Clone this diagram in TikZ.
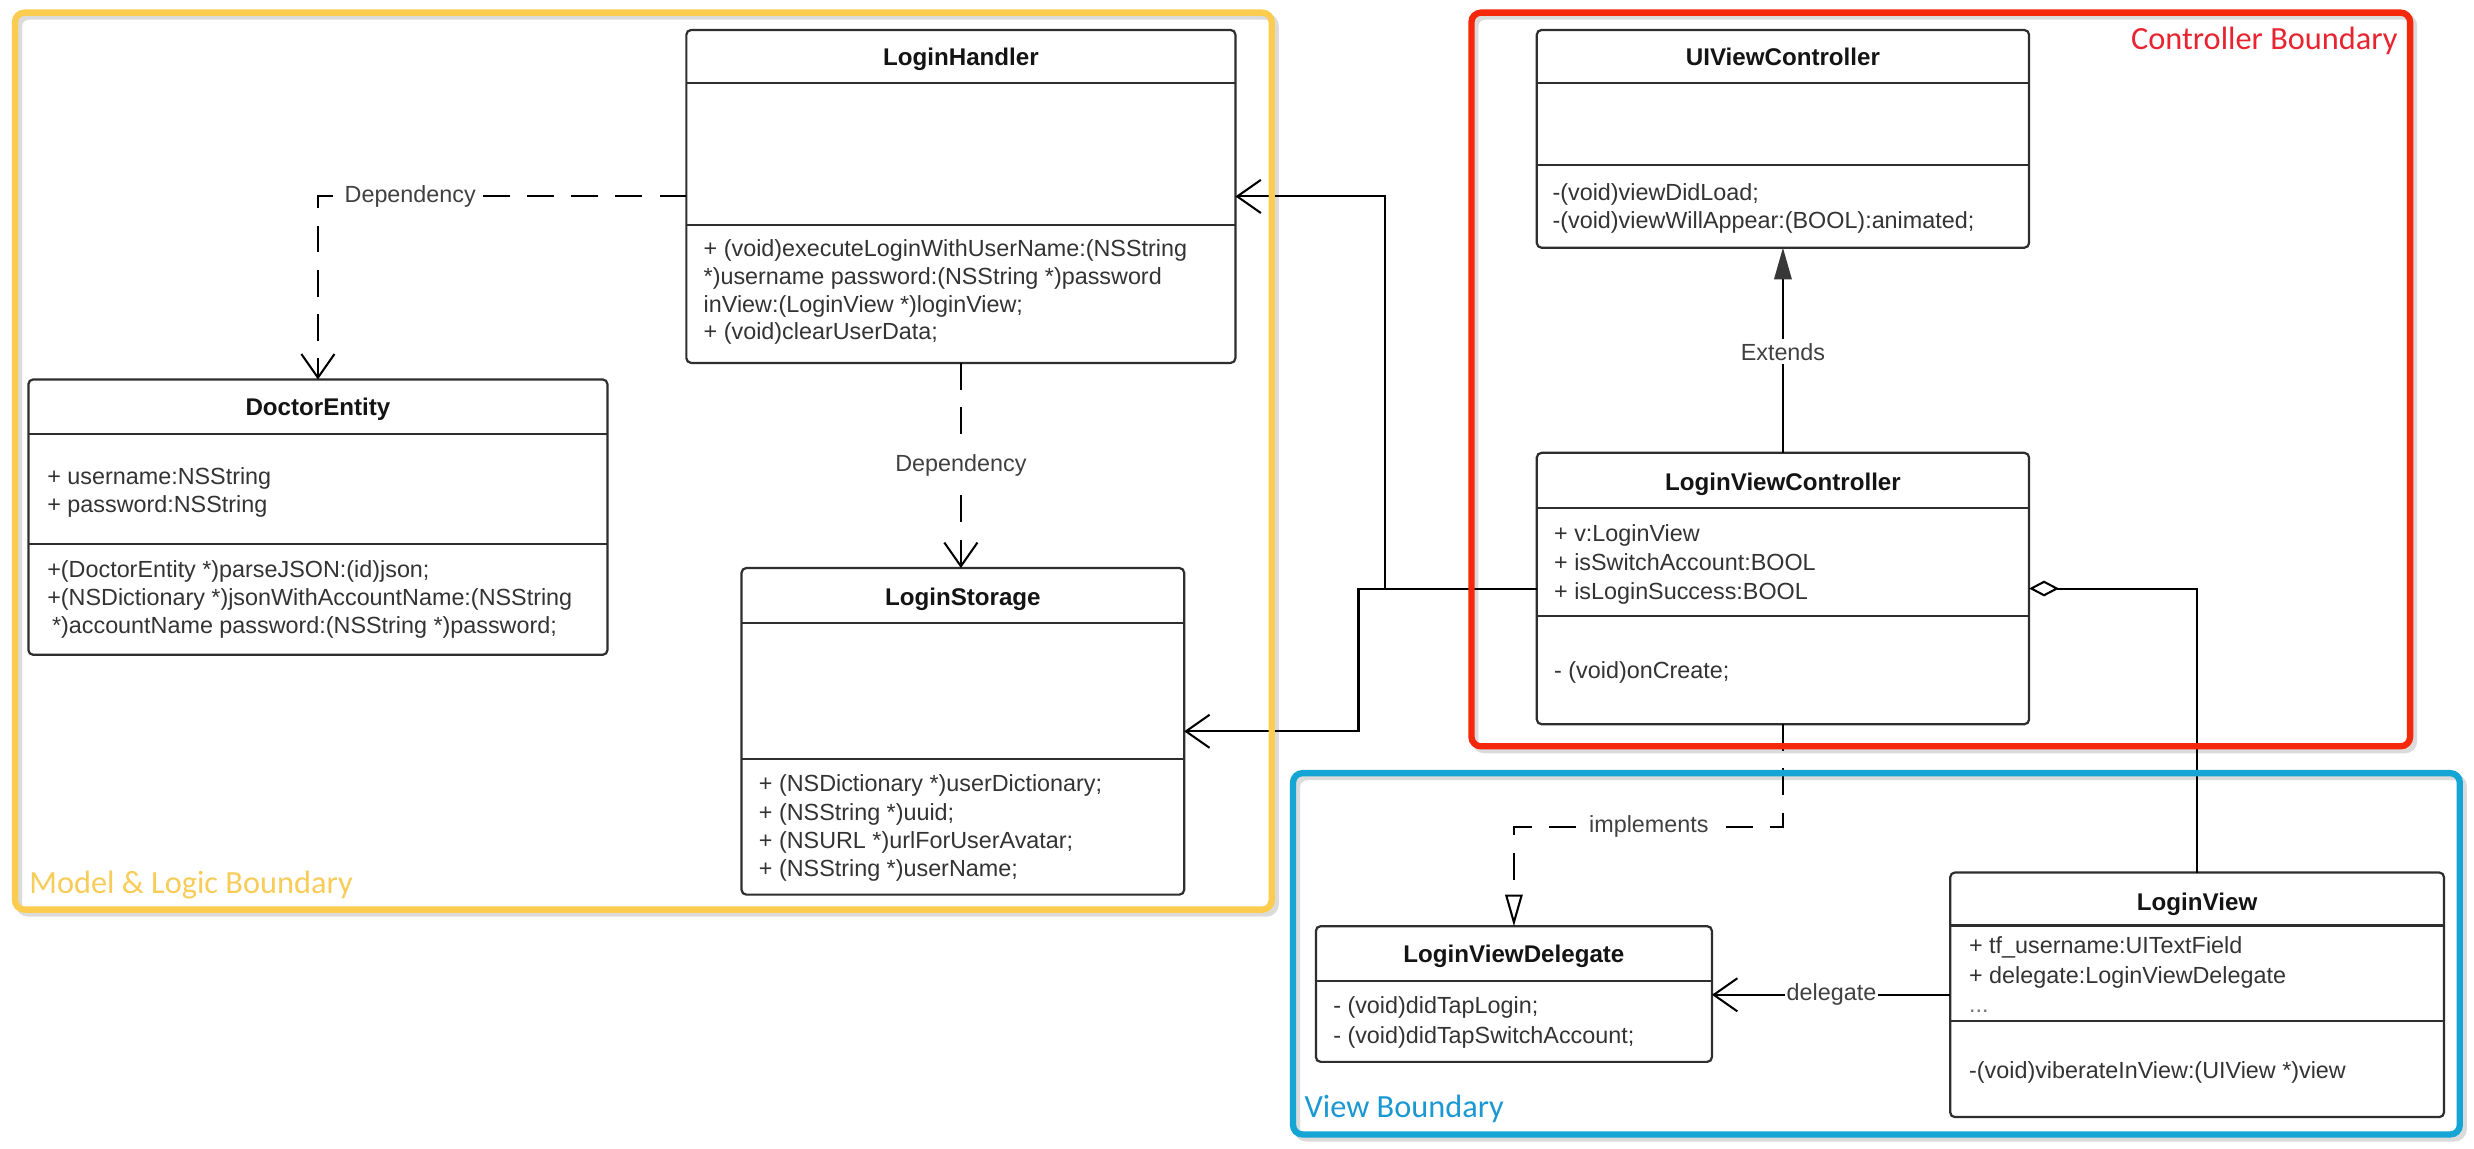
\documentclass[tikz,border=0pt]{standalone}
\usepackage{fontspec}
\setmainfont{Liberation Sans}
\newfontfamily\boundaryfont{Carlito}
\usetikzlibrary{arrows.meta}
\definecolor{modelyellow}{RGB}{252,204,78}
\definecolor{modeltext}{RGB}{248,204,88}
\definecolor{ctrlred}{RGB}{245,40,12}
\definecolor{ctrltext}{RGB}{232,36,48}
\definecolor{viewblue}{RGB}{20,165,212}
\definecolor{viewtext}{RGB}{26,152,210}

\begin{document}
\begin{tikzpicture}[x=1pt,y=-1pt,
  every node/.style={inner sep=0pt,outer sep=0pt},
  classbox/.style={draw=black!82,line width=1.4pt,rounded corners=3pt,fill=white},
  divider/.style={draw=black!82,line width=1.4pt},
  cname/.style={anchor=base,text=black!92,font=\fontsize{15.3}{18}\selectfont\bfseries},
  member/.style={anchor=base west,text=black!80,font=\fontsize{14.8}{18}\selectfont},
  conn/.style={draw=black,line width=1.3pt},
  dep/.style={conn,dash pattern=on 17pt off 11pt},
  openhead/.style={-{Straight Barb[length=15pt,width=21pt]}},
  lbl/.style={fill=white,inner sep=2.5pt,text=black!75,font=\fontsize{14.8}{18}\selectfont},
  boundary/.style={line width=4pt,rounded corners=6pt},
  bshadow/.style={line width=4pt,rounded corners=6pt,draw=black!14},
  blabel/.style={anchor=base west,font=\boundaryfont\fontsize{20.5}{24}\selectfont},
]
\useasboundingbox (0,0) rectangle (1568,728);
\fill[white] (0,0) rectangle (1568,728);

% soft shadows of the three boundaries
\draw[bshadow] (12,10.5) rectangle (808.5,579);
\draw[bshadow] (935,10.5) rectangle (1530,475.5);
\draw[bshadow] (822,492.5) rectangle (1561.5,721.5);

% ---------- classes ----------
% LoginHandler
\node[classbox,minimum width=348pt,minimum height=211pt] (LH) at (609,124.5) {};
\draw[divider] (LH.west |- 0,52.5) -- (LH.east |- 0,52.5);
\draw[divider] (LH.west |- 0,142.5) -- (LH.east |- 0,142.5);
\node[cname] (LH-name) at (609,41.5) {LoginHandler};
\node[member] (LH-m1) at (446,162.8) {+ (void)executeLoginWithUserName:(NSString};
\node[member] (LH-m2) at (446,180.3) {*)username password:(NSString *)password};
\node[member] (LH-m3) at (446,197.8) {inView:(LoginView *)loginView;};
\node[member] (LH-m4) at (446,215.3) {+ (void)clearUserData;};

% DoctorEntity
\node[classbox,minimum width=367pt,minimum height=174.5pt] (DE) at (201.5,327.75) {};
\draw[divider] (DE.west |- 0,275) -- (DE.east |- 0,275);
\draw[divider] (DE.west |- 0,345) -- (DE.east |- 0,345);
\node[cname] (DE-name) at (201.5,263.5) {DoctorEntity};
\node[member] (DE-a1) at (30,306.8) {+ username:NSString};
\node[member] (DE-a2) at (30,324.8) {+ password:NSString};
\node[member] (DE-m1) at (30,365.8) {+(DoctorEntity *)parseJSON:(id)json;};
\node[member] (DE-m2) at (30,383.8) {+(NSDictionary *)jsonWithAccountName:(NSString};
\node[member] (DE-m3) at (33,401.8) {*)accountName password:(NSString *)password;};

% LoginStorage
\node[classbox,minimum width=280.5pt,minimum height=207pt] (LS) at (610.25,463.5) {};
\draw[divider] (LS.west |- 0,395) -- (LS.east |- 0,395);
\draw[divider] (LS.west |- 0,481) -- (LS.east |- 0,481);
\node[cname] (LS-name) at (610.25,383.5) {LoginStorage};
\node[member] (LS-m1) at (481,501.8) {+ (NSDictionary *)userDictionary;};
\node[member] (LS-m2) at (481,519.8) {+ (NSString *)uuid;};
\node[member] (LS-m3) at (481,537.8) {+ (NSURL *)urlForUserAvatar;};
\node[member] (LS-m4) at (481,555.8) {+ (NSString *)userName;};

% UIViewController
\node[classbox,minimum width=312pt,minimum height=138pt] (UIVC) at (1130,88) {};
\draw[divider] (UIVC.west |- 0,52.5) -- (UIVC.east |- 0,52.5);
\draw[divider] (UIVC.west |- 0,104.7) -- (UIVC.east |- 0,104.7);
\node[cname] (UIVC-name) at (1130,41.5) {UIViewController};
\node[member] (UIVC-m1) at (984,127.3) {-(void)viewDidLoad;};
\node[member] (UIVC-m2) at (984,144.8) {-(void)viewWillAppear:(BOOL):animated;};

% LoginViewController
\node[classbox,minimum width=312pt,minimum height=172pt] (LVC) at (1130,373) {};
\draw[divider] (LVC.west |- 0,322) -- (LVC.east |- 0,322);
\draw[divider] (LVC.west |- 0,390.6) -- (LVC.east |- 0,390.6);
\node[cname] (LVC-name) at (1130,311) {LoginViewController};
\node[member] (LVC-a1) at (985,343.1) {+ v:LoginView};
\node[member] (LVC-a2) at (985,361.5) {+ isSwitchAccount:BOOL};
\node[member] (LVC-a3) at (985,379.7) {+ isLoginSuccess:BOOL};
\node[member] (LVC-m1) at (985,430.3) {- (void)onCreate;};

% LoginView
\node[classbox,minimum width=313pt,minimum height=155pt] (LV) at (1392.5,630.5) {};
\draw[divider] (LV.west |- 0,586.5) -- (LV.east |- 0,586.5);
\draw[divider] (LV.west |- 0,647) -- (LV.east |- 0,647);
\node[cname] (LV-name) at (1392.5,576.8) {LoginView};
\node[member] (LV-a1) at (1248,604.5) {+ tf\_username:UITextField};
\node[member] (LV-a2) at (1248,623.4) {+ delegate:LoginViewDelegate};
\node[member,text=black!55] (LV-a3) at (1248,641.5) {...};
\node[member] (LV-m1) at (1248,683.4) {-(void)viberateInView:(UIView *)view};

% LoginViewDelegate
\node[classbox,minimum width=251pt,minimum height=86pt] (LVD) at (959.5,630) {};
\draw[divider] (LVD.west |- 0,621.5) -- (LVD.east |- 0,621.5);
\node[cname] (LVD-name) at (959.5,609.8) {LoginViewDelegate};
\node[member] (LVD-m1) at (845,642.3) {- (void)didTapLogin;};
\node[member] (LVD-m2) at (845,661.3) {- (void)didTapSwitchAccount;};

% ---------- connectors ----------
\coordinate (jLH) at (878,373);
\coordinate (jLS) at (861,373);
\coordinate (jImp) at (1130,524);

% dependencies of LoginHandler
\draw[dep,openhead] (LH.west) -| (DE.north);
\node[lbl] (depDE) at (260,124.5) {Dependency};
\draw[dep,openhead] (LH.south) -- (LH.south |- LS.north);
\node[lbl] (depLS) at (609,295) {Dependency};

% LoginViewController uses LoginHandler and LoginStorage
\draw[conn,openhead] (LVC.west) -- (jLH) |- (LH.east);
\draw[conn,openhead] (jLH) -- (jLS) |- (LS.east);

% generalisation
\draw[conn,-{Triangle[length=20pt,width=11pt,color=black!78]}] (LVC.north) -- (UIVC.south);
\node[lbl] (ext) at (1130,223) {Extends};

% aggregation of the view
\draw[conn,{Diamond[open,length=19pt,width=10pt]}-] (LVC.east) -| (LV.north);

% realisation of the delegate protocol
\draw[dep,-{Triangle[open,length=20pt,width=11pt]}] (LVC.south) -- (jImp) -| (LVD.north);
\node[lbl] (impl) at (1045,524) {implements};

% delegate association
\draw[conn,openhead] (LV.west) -- (LVD.east |- LV.west);
\node[lbl,inner sep=0.8pt] (dlg) at (1160.8,630.5) {delegate};

% ---------- boundaries ----------
\draw[boundary,modelyellow] (9.5,8) rectangle (806,576.5);
\draw[boundary,ctrlred] (932.6,8) rectangle (1527.5,473);
\draw[boundary,viewblue] (819.5,490) rectangle (1559,719);

\node[blabel,text=modeltext] (modelLbl) at (18.6,566) {Model \& Logic Boundary};
\node[blabel,anchor=base east,text=ctrltext] (ctrlLbl) at (1519.5,31.5) {Controller Boundary};
\node[blabel,text=viewtext] (viewLbl) at (826.8,708) {View Boundary};
\end{tikzpicture}
\end{document}
